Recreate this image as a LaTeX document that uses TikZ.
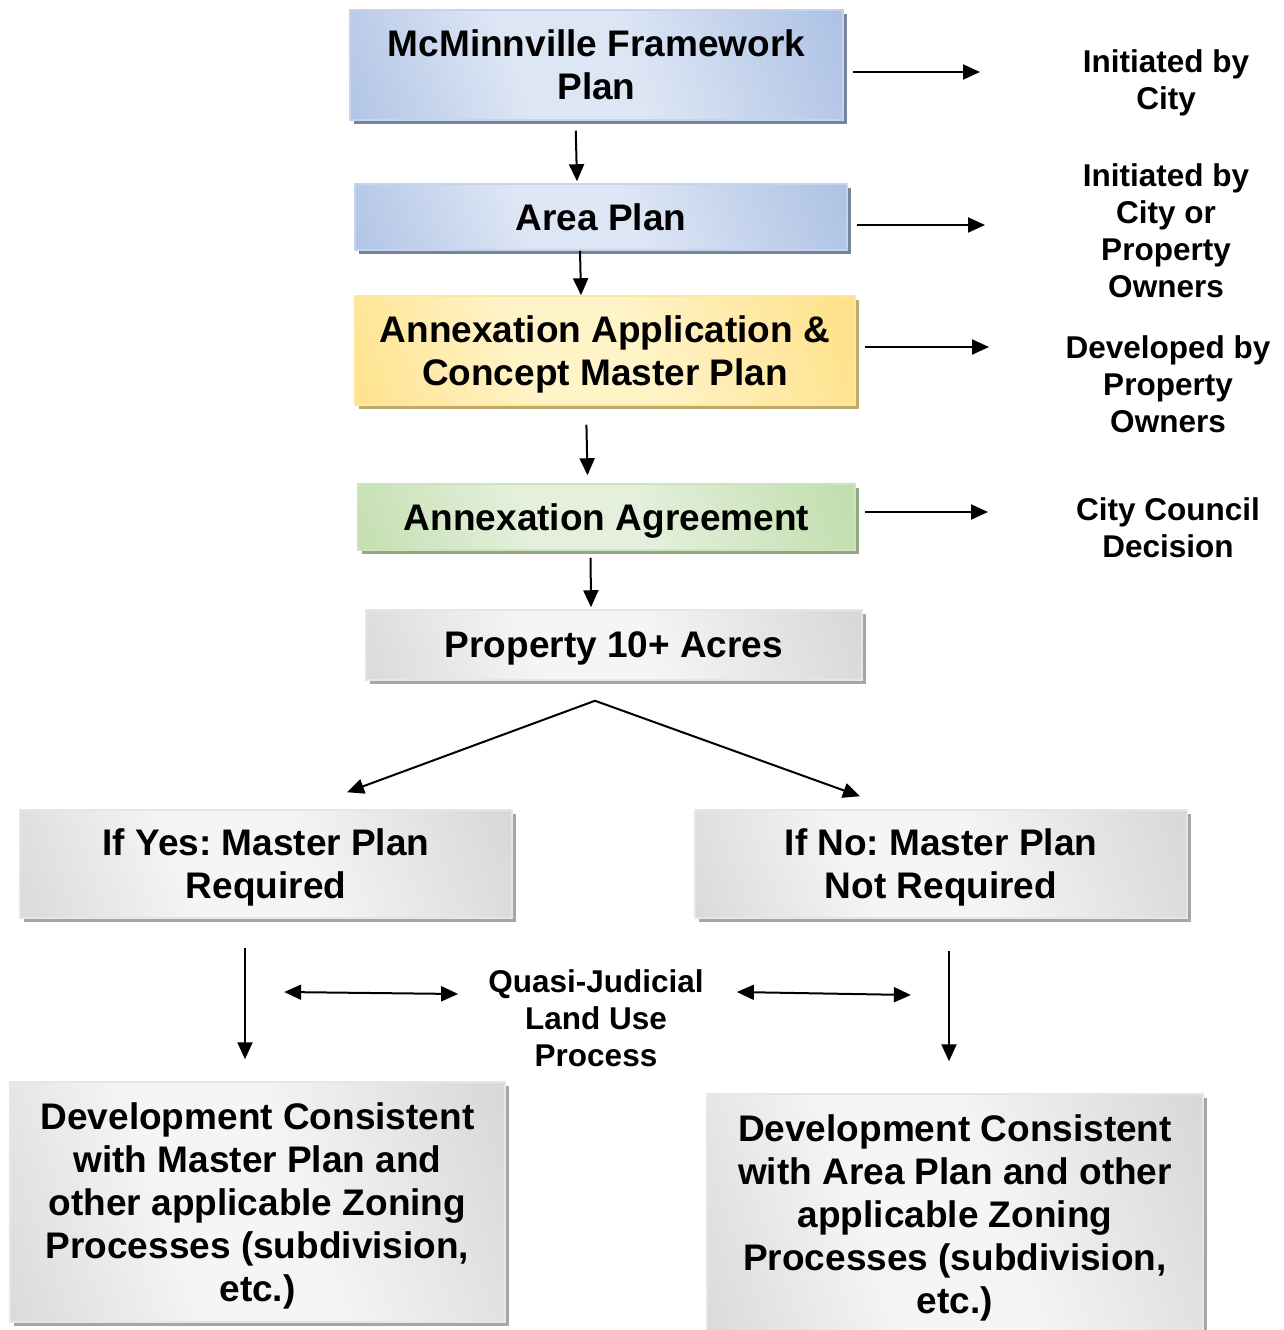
\documentclass[tikz,border=0pt]{standalone}
\usepackage{fontspec}
\setmainfont{Liberation Sans}
\usetikzlibrary{arrows.meta,shadows}
\frenchspacing
\newcommand\boxfont{\fontsize{37}{43}\selectfont\bfseries}
\newcommand\sidefont{\fontsize{31.5}{37}\selectfont\bfseries}
\definecolor{bluedark}{HTML}{8EAADB}
\definecolor{bluelight}{HTML}{DDE6F4}
\definecolor{yellowdark}{HTML}{FFD45C}
\definecolor{yellowlight}{HTML}{FFF3C8}
\definecolor{greendark}{HTML}{A9D18E}
\definecolor{greenlight}{HTML}{E4F0DC}
\definecolor{graydark}{HTML}{C4C4C4}
\definecolor{graylight}{HTML}{F5F5F5}
\colorlet{fadedark}{graydark}
\colorlet{fadelight}{graylight}
\pgfdeclarehorizontalshading[fadedark,fadelight]{stagefade}{100bp}{%
  color(0bp)=(fadedark); color(40bp)=(fadelight); color(54bp)=(fadelight); color(100bp)=(fadedark)}
\begin{document}
\begin{tikzpicture}[
    x=1pt, y=-1pt,
    stage/.style={rectangle, align=center, inner sep=0pt, text depth=0pt, line width=1.5pt, font=\boxfont,
        shading=stagefade, shading angle=20},
    bluestage/.style={stage, draw=bluelight!70!bluedark,
        /utils/exec={\colorlet{fadedark}{bluedark}\colorlet{fadelight}{bluelight}},
        drop shadow={shadow xshift=4pt, shadow yshift=-4pt, fill=black!20!bluedark!60!gray, opacity=1}},
    yellowstage/.style={stage, draw=yellowlight!60!yellowdark,
        /utils/exec={\colorlet{fadedark}{yellowdark}\colorlet{fadelight}{yellowlight}},
        drop shadow={shadow xshift=4pt, shadow yshift=-4pt, fill=yellowdark!50!gray, opacity=1}},
    greenstage/.style={stage, draw=greenlight!60!greendark,
        /utils/exec={\colorlet{fadedark}{greendark}\colorlet{fadelight}{greenlight}},
        drop shadow={shadow xshift=4pt, shadow yshift=-4pt, fill=greendark!50!gray, opacity=1}},
    graystage/.style={stage, draw=graylight!70!graydark,
        /utils/exec={\colorlet{fadedark}{graydark}\colorlet{fadelight}{graylight}},
        drop shadow={shadow xshift=4pt, shadow yshift=-4pt, fill=black!35, opacity=1}},
    side/.style={align=center, inner sep=0pt, font=\sidefont},
    flow/.style={-{Triangle[length=17pt,width=15pt]}, line width=2pt},
    twoway/.style={{Triangle[length=17pt,width=15pt]}-{Triangle[length=17pt,width=15pt]}, line width=2pt}
  ]
  \useasboundingbox (0,0) rectangle (1284,1330);

  \node[bluestage, minimum width=493pt, minimum height=110pt] (fw) at (596.5,65) {McMinnville Framework\\Plan};
  \node[bluestage, minimum width=492pt, minimum height=66pt] (area) at (601,217) {Area Plan};
  \node[yellowstage, minimum width=500pt, minimum height=109pt] (app) at (605,350.5) {Annexation Application \&\\Concept Master Plan};
  \node[greenstage, minimum width=497pt, minimum height=66pt] (agree) at (606.5,517) {Annexation Agreement};
  \node[graystage, minimum width=496pt, minimum height=70pt] (prop) at (614,645) {Property 10+ Acres};
  \node[graystage, minimum width=492pt, minimum height=108pt] (yes) at (266,864) {If Yes: Master Plan\\Required};
  \node[graystage, minimum width=492pt, minimum height=108pt] (no) at (941,864) {If No: Master Plan\\Not Required};
  \node[graystage, minimum width=495pt, minimum height=240pt] (devL) at (257.5,1202)
    {Development Consistent\\with Master Plan and\\other applicable Zoning\\Processes (subdivision,\\etc.)};
  \node[graystage, minimum width=496pt, minimum height=240pt] (devR) at (955,1214)
    {Development Consistent\\with Area Plan and other\\applicable Zoning\\Processes (subdivision,\\etc.)};

  \node[side] (byCity) at (1166,82.5) {Initiated by\\City};
  \node[side] (byOwners) at (1166,230.5) {Initiated by\\City or\\Property\\Owners};
  \node[side] (developed) at (1168,384) {Developed by\\Property\\Owners};
  \node[side] (council) at (1168,528) {City Council\\Decision};
  \node[side] (quasi) at (596,1018) {Quasi-Judicial\\Land Use\\Process};

  \coordinate (tip1) at (980,72);
  \coordinate (tip2) at (985,225);
  \coordinate (tip3) at (989,347);
  \coordinate (tip4) at (988,512);
  \foreach \b/\t in {fw/tip1, area/tip2, app/tip3, agree/tip4}
    \draw[flow, shorten <=9pt] (\b.east |- \t) -- (\t);

  \draw[flow, shorten <=10pt] ([xshift=-21pt]fw.south) -- ([xshift=-24pt,yshift=2pt]area.north);
  \draw[flow] ([xshift=-21pt]area.south) -- ([xshift=-24pt]app.north);
  \draw[flow, shorten <=19pt] ([xshift=-19pt]app.south) -- ([xshift=-19pt,yshift=8pt]agree.north);
  \draw[flow, shorten <=7pt] ([xshift=-16pt]agree.south) -- ([xshift=-23pt,yshift=2pt]prop.north);

  \coordinate (split) at ([xshift=-19pt,yshift=-20pt]prop.south);
  \draw[flow] (split) -- ([xshift=81pt,yshift=17pt]yes.north);
  \draw[flow] (split) -- ([xshift=-81pt,yshift=13pt]no.north);

  \draw[flow, shorten <=29pt] ([xshift=-21pt]yes.south) -- ([xshift=-12.5pt,yshift=22pt]devL.north);
  \draw[flow, shorten <=32pt] ([xshift=8pt]no.south) -- ([xshift=-6pt,yshift=32pt]devR.north);

  \draw[twoway] ([xshift=-204pt,yshift=26pt]quasi.west) -- ([xshift=-30pt,yshift=24pt]quasi.west);
  \draw[twoway] ([xshift=33pt,yshift=26pt]quasi.east) -- ([xshift=207pt,yshift=23pt]quasi.east);
\end{tikzpicture}
\end{document}
